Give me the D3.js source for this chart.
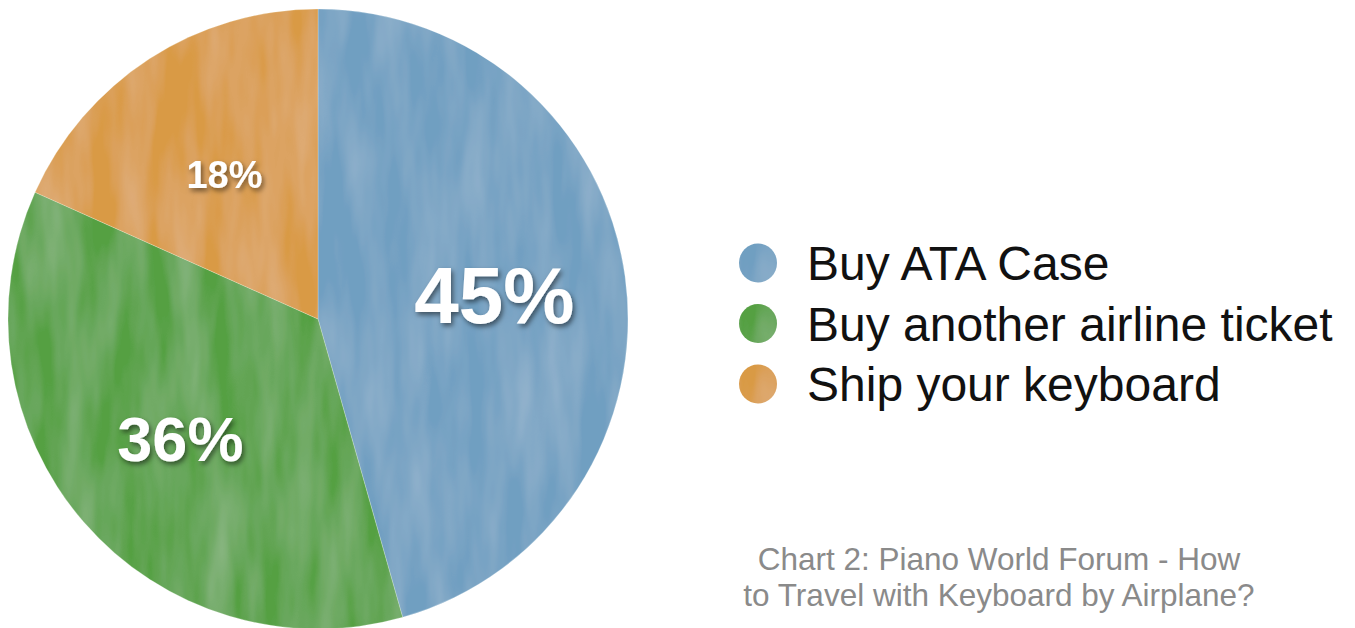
<!DOCTYPE html>
<html>
<head>
<meta charset="utf-8">
<script src="https://cdn.jsdelivr.net/npm/d3@7"></script>
<style>
  body { margin: 0; background: #fff; }
  svg { display: block; }
</style>
</head>
<body>
<div id="chart"></div>
<script>
// Chart 2: how to travel with a keyboard by airplane (pie)

var categories = ["Buy ATA Case", "Buy another airline ticket", "Ship your keyboard"];
var shares = [45.6, 36.1, 18.3];
var sliceLabels = ["45%", "36%", "18%"];
var labelSizes = [80, 63, 38];
var colors = ["#6f9fc1", "#55a043", "#d99a44"];
var captionLines = ["Chart 2: Piano World Forum - How", "to Travel with Keyboard by Airplane?"];

var width = 1355;
var height = 628;
var cx = 318, cy = 319, radius = 310;

var svg = d3.select("#chart")
    .append("svg")
    .attr("width", width)
    .attr("height", height);

var defs = svg.append("defs");

// painted brush texture (soft vertical streaks)
var paint = defs.append("filter")
    .attr("id", "paint")
    .attr("x", 0).attr("y", 0).attr("width", 1).attr("height", 1);
paint.append("feTurbulence")
    .attr("type", "fractalNoise")
    .attr("baseFrequency", "0.035 0.007")
    .attr("numOctaves", 3)
    .attr("seed", 7)
    .attr("result", "noise");
paint.append("feColorMatrix")
    .attr("in", "noise")
    .attr("type", "matrix")
    .attr("values", "0 0 0 0 1  0 0 0 0 1  0 0 0 0 1  0.26 0 0 0 -0.08")
    .attr("result", "streaks");
paint.append("feComposite")
    .attr("in", "streaks")
    .attr("in2", "SourceGraphic")
    .attr("operator", "in")
    .attr("result", "clipped");
var merge = paint.append("feMerge");
merge.append("feMergeNode").attr("in", "SourceGraphic");
merge.append("feMergeNode").attr("in", "clipped");

var shadow = defs.append("filter")
    .attr("id", "shadow")
    .attr("x", "-20%").attr("y", "-30%").attr("width", "140%").attr("height", "160%");
shadow.append("feDropShadow")
    .attr("dx", 2).attr("dy", 3)
    .attr("stdDeviation", 2.5)
    .attr("flood-color", "#000")
    .attr("flood-opacity", 0.5);

var pie = d3.pie().sort(null).value(function(d) { return d; });
var arc = d3.arc().innerRadius(0).outerRadius(radius);
var arcs = pie(shares);

var g = svg.append("g").attr("transform", "translate(" + cx + "," + cy + ")");

g.append("g")
    .attr("filter", "url(#paint)")
    .selectAll("path")
    .data(arcs)
    .enter()
    .append("path")
    .attr("d", arc)
    .attr("fill", function(d, i) { return colors[i]; })
    .attr("stroke", "rgba(255,255,255,0.3)")
    .attr("stroke-width", 0.8);

// labels sit at different distances from the centre, as in the original
var labelRadius = [178, 182, 172];
g.selectAll("text.pct")
    .data(arcs)
    .enter()
    .append("text")
    .attr("class", "pct")
    .attr("transform", function(d, i) {
        var a = (d.startAngle + d.endAngle) / 2;
        var r = labelRadius[i];
        return "translate(" + (Math.sin(a) * r) + "," + (-Math.cos(a) * r) + ")";
    })
    .attr("text-anchor", "middle")
    .attr("dy", "0.36em")
    .attr("font-family", "'Liberation Sans', Arial, Helvetica, sans-serif")
    .attr("font-weight", "bold")
    .attr("font-size", function(d, i) { return labelSizes[i]; })
    .attr("fill", "#fff")
    .attr("filter", "url(#shadow)")
    .text(function(d, i) { return sliceLabels[i]; });

// legend
var legend = svg.append("g").attr("transform", "translate(758,263)");
var row = legend.selectAll("g")
    .data(categories)
    .enter()
    .append("g")
    .attr("transform", function(d, i) { return "translate(0," + (i * 60.5) + ")"; });

row.append("ellipse")
    .attr("rx", 19)
    .attr("ry", 19.5)
    .attr("fill", function(d, i) { return colors[i]; })
    .attr("filter", "url(#paint)");

row.append("text")
    .attr("x", 49)
    .attr("dy", "0.36em")
    .attr("font-family", "'Liberation Sans', Arial, Helvetica, sans-serif")
    .attr("font-size", 48)
    .attr("fill", "#111")
    .text(function(d) { return d; });

// caption
svg.append("g")
    .selectAll("text")
    .data(captionLines)
    .enter()
    .append("text")
    .attr("x", 999)
    .attr("y", function(d, i) { return 570 + i * 36; })
    .attr("text-anchor", "middle")
    .attr("font-family", "'Liberation Sans', Arial, Helvetica, sans-serif")
    .attr("font-size", 31.5)
    .attr("fill", "#8a8a8a")
    .text(function(d) { return d; });
</script>
</body>
</html>
